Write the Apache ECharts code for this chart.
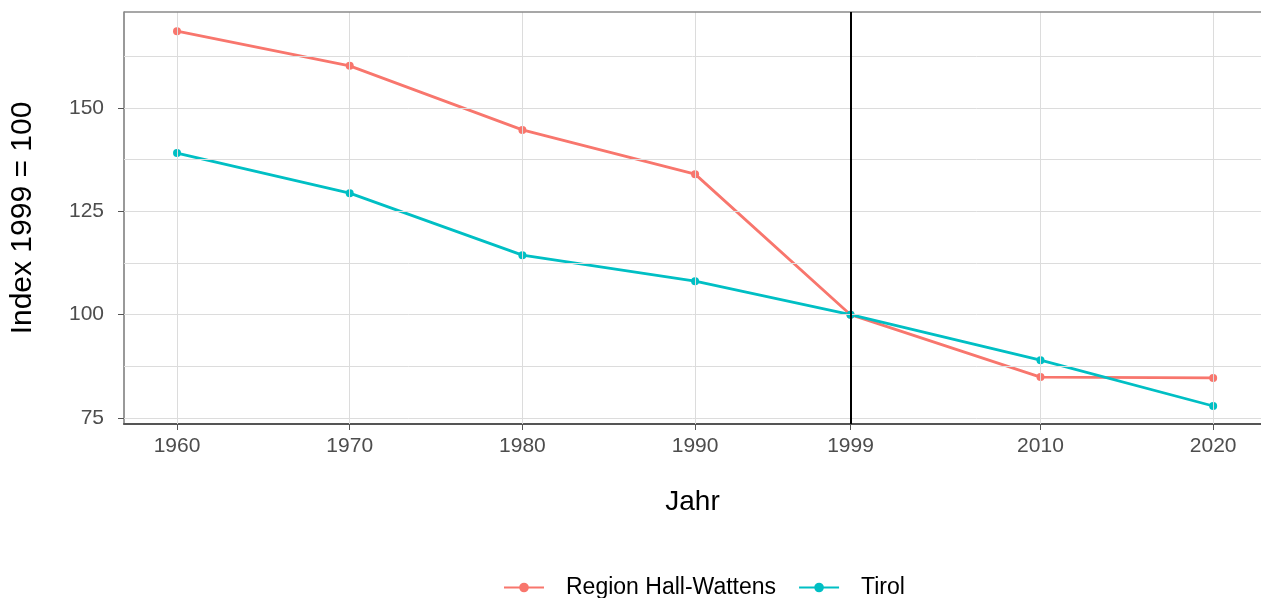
<!DOCTYPE html>
<html>
<head>
<meta charset="utf-8">
<script src="https://cdn.jsdelivr.net/npm/echarts@6/dist/echarts.min.js"></script>
<style>
  html, body { margin: 0; padding: 0; background: #fff; }
  #chart { width: 1261px; height: 598px; }
</style>
</head>
<body>
<div id="chart"></div>
<script>
const years = [1960, 1970, 1980, 1990, 1999, 2010, 2020];
const regionHallWattens = [168.6, 160.2, 144.7, 134.0, 100, 84.9, 84.7];
const tirol = [139.1, 129.4, 114.4, 108.1, 100, 89.0, 77.9];
const yMajor = [75, 100, 125, 150];
const yMinor = [87.5, 112.5, 137.5, 162.5];
const refYear = 1999;

const Y_MIN = 73.55, Y_MAX = 173.23;

const chart = echarts.init(document.getElementById("chart"));

const pairs = arr => years.map((y, i) => [y, arr[i]]);
const gridLine = { color: "#dcdcdc", width: 1, type: "solid" };

chart.setOption({
  animation: false,
  textStyle: { fontFamily: "Liberation Sans, Arial, sans-serif" },
  grid: { left: 123, top: 12, right: 0, bottom: 174 },
  legend: {
    top: 571, left: 498,
    itemWidth: 40, itemHeight: 12, itemGap: 22,
    textStyle: { fontSize: 23, color: "#000", padding: [0, 0, 0, 17] },
    data: ["Region Hall-Wattens", "Tirol"]
  },
  xAxis: {
    type: "value", min: 1956.93, max: 2022.77,
    name: "Jahr", nameLocation: "middle", nameGap: 64,
    nameTextStyle: { fontSize: 28, color: "#000" },
    axisLine: { show: true, lineStyle: { color: "#555", width: 2 } },
    axisTick: { show: true, customValues: years, length: 6, lineStyle: { color: "#555" } },
    axisLabel: { customValues: years, fontSize: 21, color: "#4d4d4d", margin: 12, formatter: v => String(v) },
    splitLine: { show: false }
  },
  yAxis: {
    type: "value", min: Y_MIN, max: Y_MAX,
    name: "Index 1999 = 100", nameLocation: "middle", nameGap: 86,
    nameTextStyle: { fontSize: 30, color: "#000" },
    axisLine: { show: true, lineStyle: { color: "#777", width: 1.5 } },
    axisTick: { show: true, customValues: yMajor, length: 6, lineStyle: { color: "#555" } },
    axisLabel: { customValues: yMajor, fontSize: 21, color: "#4d4d4d", margin: 20, formatter: v => String(v) },
    splitLine: { show: false }
  },
  series: [
    {
      name: "gridlines", type: "line", data: [], z: 1, silent: true,
      markLine: {
        silent: true, symbol: "none", label: { show: false },
        lineStyle: gridLine, animation: false,
        data: [
          ...yMajor.map(v => ({ yAxis: v })),
          ...yMinor.map(v => ({ yAxis: v })),
          ...years.map(v => ({ xAxis: v }))
        ]
      }
    },
    {
      name: "border", type: "line", data: [], z: 2, silent: true,
      markLine: {
        silent: true, symbol: "none", label: { show: false }, animation: false,
        lineStyle: { color: "#8a8a8a", width: 1.5, type: "solid" },
        data: [{ yAxis: Y_MAX }]
      }
    },
    {
      name: "Region Hall-Wattens", type: "line", data: pairs(regionHallWattens), z: 3,
      color: "#F8766D", symbol: "circle", symbolSize: 8,
      lineStyle: { width: 2.8 }
    },
    {
      name: "Tirol", type: "line", data: pairs(tirol), z: 3,
      color: "#00BFC4", symbol: "circle", symbolSize: 8,
      lineStyle: { width: 2.8 }
    },
    {
      name: "ref", type: "line", data: [], z: 2, silent: true,
      markLine: {
        silent: true, symbol: "none", label: { show: false }, animation: false,
        lineStyle: { color: "#000", width: 2, type: "solid" },
        data: [{ xAxis: refYear }]
      }
    }
  ]
});
</script>
</body>
</html>
